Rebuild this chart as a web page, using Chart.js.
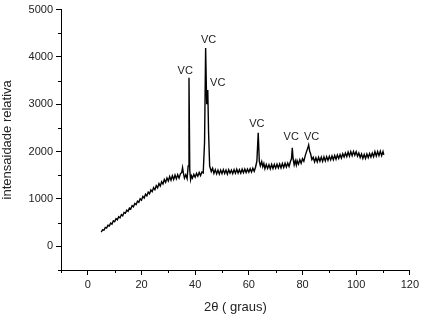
<!DOCTYPE html>
<html>
<head>
<meta charset="utf-8">
<script src="https://cdn.jsdelivr.net/npm/chart.js@4/dist/chart.umd.min.js"></script>
<style>
html,body{margin:0;padding:0;background:#fff;}
canvas{display:block;}
</style>
</head>
<body>
<canvas id="c" width="422" height="315"></canvas>
<script>
// 2-theta angles (degrees)
const twoTheta = [
5.0,5.5,6.0,6.5,7.0,7.5,8.0,8.5,9.0,9.5,10.0,10.5,11.0,11.5,12.0,12.5,13.0,13.5,14.0,14.5,
15.0,15.5,16.0,16.5,17.0,17.5,18.0,18.5,19.0,19.5,20.0,20.5,21.0,21.5,22.0,22.5,23.0,23.5,24.0,24.5,
25.0,25.5,26.0,26.5,27.0,27.5,28.0,28.5,29.0,29.5,30.0,30.5,31.0,31.5,32.0,32.5,33.0,33.5,34.0,34.5,
35.0,35.3,35.6,36.0,36.5,37.0,37.4,37.7,38.0,38.3,38.6,39.0,39.5,40.0,40.5,41.0,41.5,42.0,42.5,43.0,
43.5,43.9,44.3,44.7,45.0,45.4,46.0,46.5,47.0,47.5,48.0,48.5,49.0,49.5,50.0,50.5,51.0,51.5,52.0,52.5,
53.0,53.5,54.0,54.5,55.0,55.5,56.0,56.5,57.0,57.5,58.0,58.5,59.0,59.5,60.0,60.5,61.0,61.5,62.0,62.5,
63.0,63.5,63.9,64.3,64.8,65.2,65.6,66.0,66.5,67.0,67.5,68.0,68.5,69.0,69.5,70.0,70.5,71.0,71.5,72.0,
72.5,73.0,73.5,74.0,74.5,75.0,75.5,75.9,76.2,76.5,76.9,77.3,77.7,78.0,78.5,79.0,79.5,80.0,80.5,81.0,
81.5,82.0,82.3,82.7,83.0,83.5,84.0,84.5,85.0,85.5,86.0,86.5,87.0,87.5,88.0,88.5,89.0,89.5,90.0,90.5,
91.0,91.5,92.0,92.5,93.0,93.5,94.0,94.5,95.0,95.5,96.0,96.5,97.0,97.5,98.0,98.5,99.0,99.5,100.0,100.5,
101.0,101.5,102.0,102.5,103.0,103.5,104.0,104.5,105.0,105.5,106.0,106.5,107.0,107.5,108.0,108.5,109.0,109.5,110.0,110.3
];
// relative intensity
const intensity = [
300,350,340,400,385,445,430,490,470,540,520,585,560,625,600,670,645,715,700,765,
740,810,790,860,835,905,880,955,930,1005,975,1055,1020,1100,1065,1145,1110,1190,1155,1240,
1195,1280,1235,1325,1275,1365,1315,1410,1350,1445,1380,1475,1395,1490,1410,1505,1425,1515,1440,1530,
1560,1660,1550,1440,1510,1430,1700,3560,1600,1410,1490,1440,1520,1460,1540,1480,1560,1495,1570,1550,
2200,4190,3000,3300,2400,1700,1580,1650,1540,1620,1530,1610,1525,1610,1535,1620,1540,1610,1525,1620,
1545,1610,1535,1620,1545,1630,1550,1620,1545,1630,1555,1635,1560,1630,1565,1640,1570,1650,1585,1670,
1800,2400,1800,1700,1790,1680,1750,1640,1730,1645,1725,1635,1730,1645,1730,1650,1735,1655,1740,1655,
1750,1665,1755,1675,1760,1685,1790,1850,2080,1850,1720,1810,1715,1810,1735,1830,1755,1850,1795,1910,
2000,2080,2140,2000,1960,1830,1880,1785,1870,1785,1880,1795,1885,1795,1890,1805,1895,1815,1900,1825,
1910,1830,1920,1840,1930,1855,1940,1865,1955,1885,1970,1895,1990,1905,2000,1915,2005,1925,2000,1905,
1970,1875,1950,1855,1940,1855,1950,1875,1960,1885,1970,1895,2000,1905,2000,1915,2010,1915,2000,1930
];
// peak annotations
const peakLabels = ["VC","VC","VC","VC","VC","VC"];
const peakLabelX = [36.3, 45.0, 48.4, 63.0, 75.8, 83.4];
const peakLabelY = [3700, 4350, 3445, 2590, 2300, 2300];
// axis ticks
const xTicks = [0,20,40,60,80,100,120];
const xMinorTicks = [-10,10,30,50,70,90,110];
const yTicks = [0,1000,2000,3000,4000,5000];
const yMinorTicks = [-500,500,1500,2500,3500,4500];

const FONT = "'Liberation Sans', Arial, sans-serif";

const points = twoTheta.map((x,i)=>({x:x, y:intensity[i]}));

const extras = {
  id:'extras',
  afterDraw(chart){
    const ctx = chart.ctx;
    const xs = chart.scales.x, ys = chart.scales.y;
    ctx.save();
    ctx.strokeStyle = '#000';
    ctx.lineWidth = 1;
    ctx.beginPath();
    xMinorTicks.forEach(v=>{
      const px = Math.round(xs.getPixelForValue(v))+0.5;
      ctx.moveTo(px, ys.bottom); ctx.lineTo(px, ys.bottom+3);
    });
    yMinorTicks.forEach(v=>{
      const py = Math.round(ys.getPixelForValue(v))+0.5;
      ctx.moveTo(xs.left, py); ctx.lineTo(xs.left-3, py);
    });
    ctx.stroke();
    ctx.fillStyle = '#222';
    ctx.font = "11px " + FONT;
    ctx.textAlign = 'center';
    ctx.textBaseline = 'middle';
    peakLabels.forEach((t,i)=>{
      ctx.fillText(t, xs.getPixelForValue(peakLabelX[i]), ys.getPixelForValue(peakLabelY[i]));
    });
    ctx.restore();
  }
};

new Chart(document.getElementById('c'), {
  type:'line',
  data:{datasets:[{
    data: points,
    borderColor:'#000',
    borderWidth:1.4,
    pointRadius:0,
    tension:0,
    fill:false
  }]},
  options:{
    responsive:false,
    devicePixelRatio:1,
    animation:false,
    layout:{padding:{left:0,right:5,top:8,bottom:0}},
    plugins:{legend:{display:false},tooltip:{enabled:false}},
    scales:{
      x:{
        type:'linear', min:-10, max:120,
        afterBuildTicks(s){ s.ticks = xTicks.map(v=>({value:v})); },
        afterFit(s){ s.height = 45; },
        ticks:{font:{family:FONT,size:11},color:'#222',padding:3,maxRotation:0,autoSkip:false,callback:v=>String(v)},
        grid:{display:true,drawOnChartArea:false,drawTicks:true,tickLength:5,color:'#000',tickColor:'#000'},
        border:{display:true,color:'#000',width:1},
        title:{display:true,text:'2θ ( graus)',font:{family:FONT,size:13},color:'#222',padding:{top:0,bottom:0}}
      },
      y:{
        type:'linear', min:-500, max:5000,
        afterBuildTicks(s){ s.ticks = yTicks.map(v=>({value:v})); },
        afterFit(s){ s.width = 61; },
        ticks:{font:{family:FONT,size:11},color:'#222',padding:3,autoSkip:false,callback:v=>String(v)},
        grid:{display:true,drawOnChartArea:false,drawTicks:true,tickLength:5,color:'#000',tickColor:'#000'},
        border:{display:true,color:'#000',width:1},
        title:{display:true,text:'intensaidade relativa',font:{family:FONT,size:13},color:'#222',padding:{top:0,bottom:0}}
      }
    }
  },
  plugins:[extras]
});
</script>
</body>
</html>
